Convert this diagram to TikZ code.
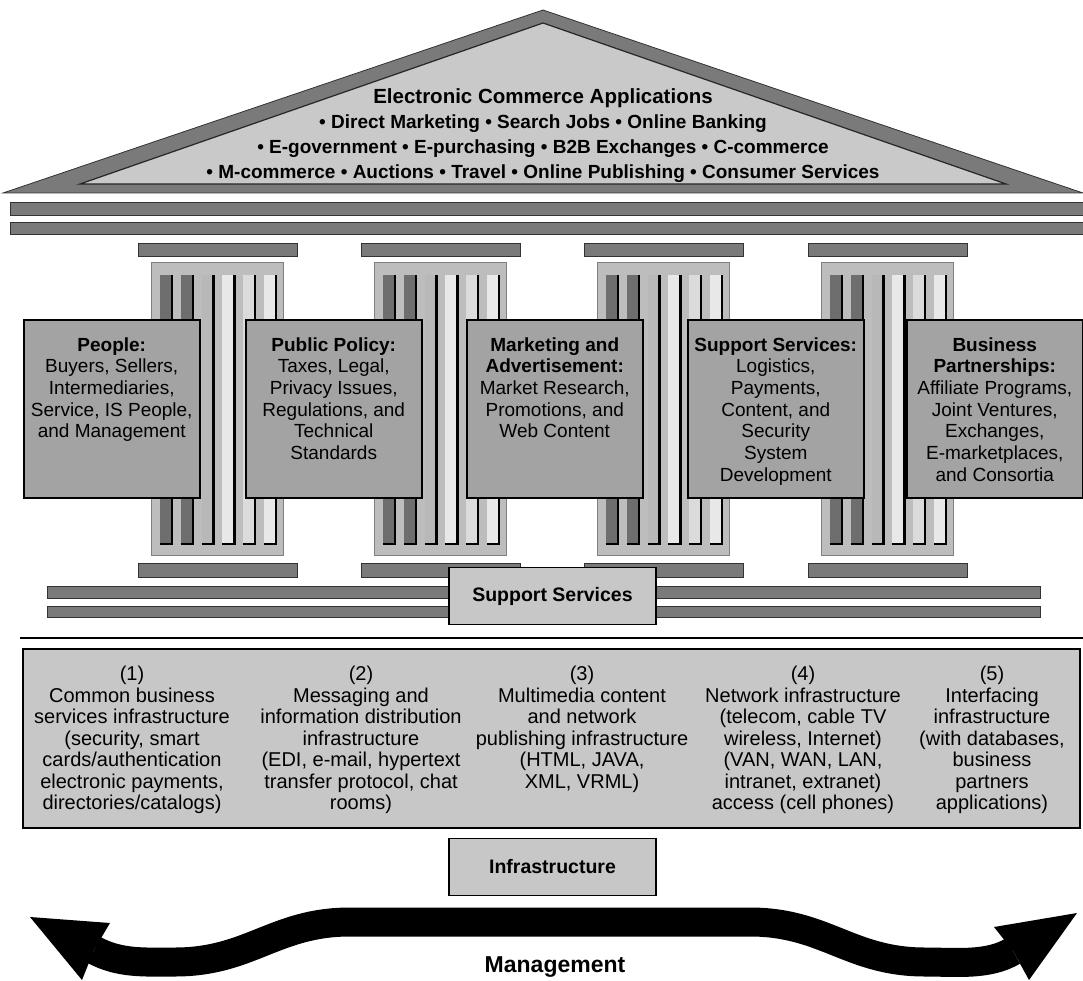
\documentclass[tikz,border=0pt]{standalone}
\usepackage{fontspec}
\setmainfont{Liberation Sans}
\usetikzlibrary{arrows.meta,positioning}

\definecolor{bardark}{gray}{0.48}
\definecolor{roofin}{gray}{0.79}
\definecolor{shaftgray}{gray}{0.74}
\definecolor{shaftedge}{gray}{0.50}
\definecolor{pillargray}{gray}{0.64}
\definecolor{lightgray}{gray}{0.78}
\definecolor{stripeA}{gray}{0.43}
\definecolor{stripeB}{gray}{0.72}
\definecolor{stripeC}{gray}{0.91}
\definecolor{stripeD}{gray}{0.86}

\newcommand{\pillartext}[1]{\parbox[t][143pt][t]{172pt}{\centering\fontsize{19}{21.7}\selectfont #1}}

\begin{document}
\begin{tikzpicture}[
	x=1pt, y=-1pt,
	bar/.style={draw=black!80, line width=0.8pt, fill=bardark},
	pillarbox/.style={draw=black, line width=1.5pt, fill=pillargray, minimum width=176pt, minimum height=178pt, inner sep=0pt, anchor=north west},
	labelbox/.style={draw=black, line width=1.5pt, fill=lightgray, minimum width=207pt, minimum height=57pt, font=\fontsize{19.5}{23}\selectfont\bfseries},
	basetext/.style={anchor=north, align=center, inner sep=0pt, font=\fontsize{20}{21.5}\selectfont}
]
\useasboundingbox (0,0) rectangle (1083,981);

% roof
\draw[draw=black!80, line width=0.8pt, fill=bardark] (3,193) -- (543,10) -- (1083,193) -- cycle;
\draw[draw=black!85, line width=1.2pt, fill=roofin] (80,184) -- (543,23) -- (1006,184) -- cycle;
\node[align=center, font=\fontsize{19}{25}\selectfont\bfseries] (apps) at (543,136)
	{{\fontsize{20.5}{25}\selectfont Electronic Commerce Applications}\\
	 • Direct Marketing • Search Jobs • Online Banking\\
	 • E-government • E-purchasing • B2B Exchanges • C-commerce\\
	 • M-commerce • Auctions • Travel • Online Publishing • Consumer Services};

\draw[bar] (10,202) rectangle (1083,215);
\draw[bar] (10,222) rectangle (1083,234);

% columns
\foreach \c in {151,374,597,821} {
	\draw[bar] ({\c-13},243) rectangle ({\c+146},256);
	\draw[bar] ({\c-13},563) rectangle ({\c+146},577);
	\draw[draw=shaftedge, line width=1pt, fill=shaftgray] (\c,263) rectangle ({\c+132},555);
	\foreach \i/\s in {0/stripeA,1/stripeA,2/stripeB,3/stripeC,4/stripeD,5/stripeC} {
		\fill[\s] ({\c+9+20.8*\i},275) rectangle ({\c+22+20.8*\i},545);
		\draw[line width=2.4pt] ({\c+9+20.8*\i},544) -- ({\c+21+20.8*\i},544) -- ({\c+21+20.8*\i},275);
	}
}

% pillar boxes
\node[pillarbox] (people) at (23,319) {\pillartext{\textbf{People:}\\Buyers, Sellers,\\Intermediaries,\\Service, IS People,\\and Management}};
\node[pillarbox] (policy) at (245,319) {\pillartext{\textbf{Public Policy:}\\Taxes, Legal,\\Privacy Issues,\\Regulations, and\\Technical\\Standards}};
\node[pillarbox] (marketing) at (466,319) {\pillartext{\textbf{Marketing and}\\\textbf{Advertisement:}\\Market Research,\\Promotions, and\\Web Content}};
\node[pillarbox] (services) at (687,319) {\pillartext{\textbf{Support Services:}\\Logistics,\\Payments,\\Content, and\\Security\\System\\Development}};
\node[pillarbox] (partners) at (906,319) {\pillartext{\textbf{Business}\\\textbf{Partnerships:}\\Affiliate Programs,\\Joint Ventures,\\Exchanges,\\E-marketplaces,\\and Consortia}};

% base
\draw[bar] (47,586) rectangle (1040,598);
\draw[bar] (47,606) rectangle (1040,617);
\node[labelbox] (support) at (552.5,596) {Support Services};

\draw[line width=1.8pt] (20,638) -- (1083,638);

\node[draw=black, line width=2pt, fill=lightgray, minimum width=1057pt, minimum height=179pt, anchor=north west] (base) at (22,648) {};
\node[basetext] (infra1) at (132,666) {(1)\\Common business\\services infrastructure\\(security, smart\\cards/authentication\\electronic payments,\\directories/catalogs)};
\node[basetext] (infra2) at (361,666) {(2)\\Messaging and\\information distribution\\infrastructure\\(EDI, e-mail, hypertext\\transfer protocol, chat\\rooms)};
\node[basetext] (infra3) at (582,666) {(3)\\Multimedia content\\and network\\publishing infrastructure\\(HTML, JAVA,\\XML, VRML)};
\node[basetext] (infra4) at (803,666) {(4)\\Network infrastructure\\(telecom, cable TV\\wireless, Internet)\\(VAN, WAN, LAN,\\intranet, extranet)\\access (cell phones)};
\node[basetext] (infra5) at (992,666) {(5)\\Interfacing\\infrastructure\\(with databases,\\business\\partners\\applications)};

\node[labelbox] (infra) at (552.5,867) {Infrastructure};

% management arrow
\coordinate (ltip) at (30,917);
\coordinate (lend) at (94,950);
\coordinate (rtip) at (1077,913);
\coordinate (rend) at (1013,951);
\fill (ltip) -- (110,923) -- (lend) -- (82,980) -- cycle;
\fill (rtip) -- (1029,980) -- (rend) -- (994,927) -- cycle;
\draw[line width=29pt] (lend) .. controls (120,964) and (145,962) .. (175,962)
	.. controls (250,962) and (275,922) .. (350,922) -- (750,922)
	.. controls (825,922) and (850,962) .. (925,962)
	.. controls (955,962) and (988,966) .. (rend);
\node[font=\fontsize{23}{27}\selectfont\bfseries] (mgmt) at (555,967) {Management};
\end{tikzpicture}
\end{document}
